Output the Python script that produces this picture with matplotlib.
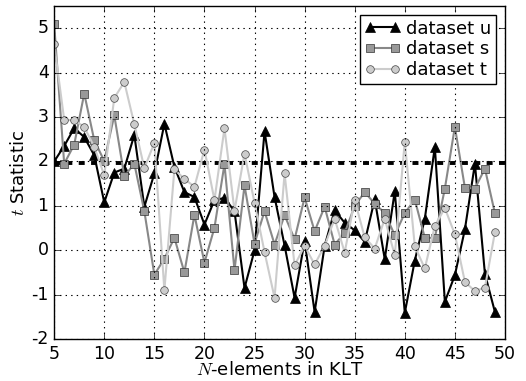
import matplotlib
matplotlib.use('Agg')
import matplotlib.pyplot as plt

# ---- data ----
n_elements = list(range(5, 50))

dataset_u = [2.0, 2.35, 2.75, 2.55, 2.14, 1.08, 1.75, 1.84, 2.6, 0.98,
             1.73, 2.85, 1.88, 1.31, 1.2, 0.58, 1.13, 1.18, 0.88, -0.85,
             0.0, 2.68, 1.2, 0.11, -1.07, 0.21, -1.39, 0.1, 0.9, 0.62,
             0.45, 0.19, 1.15, -0.2, 1.33, -1.41, -0.23, 0.71, 2.33, -1.16,
             -0.56, 0.47, 1.95, -0.53, -1.39]

dataset_s = [5.09, 1.95, 2.38, 3.53, 2.48, 2.01, 3.04, 1.67, 1.95, 0.88,
             -0.55, -0.19, 0.28, -0.5, 0.8, -0.28, 0.51, 1.94, -0.45, 1.46,
             0.15, 0.88, 0.13, 0.79, 0.25, 1.19, 0.43, 0.98, 0.13, 0.39,
             1.0, 1.31, 1.05, 0.84, 0.34, 0.84, 1.14, 0.28, 0.28, 1.39,
             2.78, 1.41, 1.39, 1.84, 0.83]

dataset_t = [4.64, 2.94, 2.93, 2.78, 2.33, 1.69, 3.43, 3.79, 2.84, 1.85,
             2.42, -0.9, 1.82, 1.61, 1.43, 2.27, 1.13, 2.75, 0.89, 2.18,
             1.07, -0.04, -1.07, 1.73, -0.34, 0.1, -0.32, 0.1, 0.71, -0.05,
             1.13, 0.29, 0.04, 0.71, -0.11, 2.45, 0.09, -0.41, 0.55, 0.95,
             0.36, -0.71, -0.92, -0.84, 0.41]

threshold = 1.96

# ---- plot ----
plt.style.use('classic')
plt.rcParams['font.size'] = 13
plt.rcParams['axes.unicode_minus'] = False
plt.rcParams['xtick.labelsize'] = 12.5
plt.rcParams['ytick.labelsize'] = 12.5
plt.rcParams['lines.scale_dashes'] = False

fig = plt.figure(figsize=(5.26, 3.81), dpi=100, facecolor='white')
ax = fig.add_axes([0.103, 0.110, 0.857, 0.874])

ax.plot(n_elements, dataset_u, color='black', lw=1.5, marker='^', ms=6.5,
        mfc='black', mec='black', label='dataset u')
ax.plot(n_elements, dataset_s, color='#888888', lw=1.5, marker='s', ms=5.5,
        mfc='#999999', mec='#333333', label='dataset s')
ax.plot(n_elements, dataset_t, color='#cccccc', lw=1.5, marker='o', ms=5.5,
        mfc='#cccccc', mec='#444444', label='dataset t')

ax.axhline(threshold, color='black', lw=2.8, ls=(0, (4.3, 4.6)),
           dash_capstyle='butt', zorder=1.5)

ax.set_xlim(5, 50)
ax.set_ylim(-2, 5.5)
ax.set_xticks(range(5, 51, 5))
ax.set_yticks(range(-2, 6))
ax.grid(True, color='black', ls=':', lw=0.8)

ax.set_xlabel('$N$-elements in KLT', labelpad=-1)
ax.set_ylabel('$t$ Statistic', labelpad=2)

leg = ax.legend(loc='upper right', numpoints=2, fontsize=13,
                borderaxespad=0.5, handlelength=2.0, handletextpad=0.3,
                labelspacing=0.15, borderpad=0.25)
leg.get_frame().set_edgecolor('black')

fig.savefig('out.png', dpi=100, facecolor='white')
